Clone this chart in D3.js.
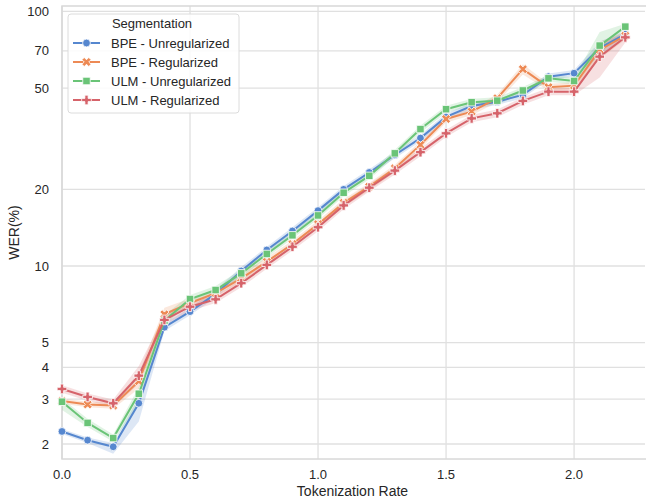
<!DOCTYPE html>
<html>
<head>
<meta charset="utf-8">
<script src="https://cdn.jsdelivr.net/npm/d3@7"></script>
<style>
  body { margin: 0; background: #fff; }
  text { font-family: "Liberation Sans", Arial, sans-serif; fill: #262626; }
</style>
</head>
<body>
<div id="chart"></div>
<script>
var rates = [0.0, 0.1, 0.2, 0.3, 0.4, 0.5, 0.6, 0.7, 0.8, 0.9, 1.0, 1.1,
             1.2, 1.3, 1.4, 1.5, 1.6, 1.7, 1.8, 1.9, 2.0, 2.1, 2.2];

var bpeUnreg = [2.24, 2.07, 1.95, 2.89, 5.75, 6.62, 7.77, 9.56, 11.56, 13.73, 16.5, 20.0,
                23.3, 27.3, 31.8, 38.5, 42.5, 44.2, 47.0, 55.4, 57.2, 71.7, 81.5];
var bpeReg   = [2.95, 2.86, 2.83, 3.53, 6.46, 7.16, 7.82, 8.95, 10.4, 12.2, 14.6, 17.7,
                20.5, 24.2, 29.9, 37.8, 40.4, 45.6, 59.3, 50.4, 51.1, 70.6, 80.3];
var ulmUnreg = [2.93, 2.42, 2.11, 3.15, 6.10, 7.42, 8.05, 9.36, 11.15, 13.2, 15.8, 19.4,
                22.6, 27.7, 34.5, 41.3, 44.0, 44.6, 48.9, 54.6, 53.3, 73.4, 87.1];
var ulmReg   = [3.29, 3.06, 2.89, 3.71, 6.14, 6.92, 7.40, 8.56, 10.1, 11.9, 14.2, 17.3,
                20.3, 23.7, 28.0, 33.2, 38.0, 39.8, 44.5, 48.4, 48.4, 66.4, 79.1];

// confidence band edges
var bpeUnregLo = [2.19, 2.02, 1.83, 2.45, 5.55, 6.40, 7.50, 9.25, 11.2, 13.3, 16.0, 19.4,
                  22.6, 26.5, 30.8, 37.3, 41.2, 42.9, 45.6, 53.8, 55.5, 67.0, 78.5];
var bpeUnregHi = [2.29, 2.12, 2.02, 3.05, 5.95, 6.85, 8.05, 9.90, 11.9, 14.2, 17.0, 20.6,
                  24.0, 28.1, 32.8, 39.7, 43.8, 45.5, 48.4, 57.0, 58.9, 76.0, 84.0];
var bpeRegLo   = [2.88, 2.79, 2.75, 3.30, 6.20, 6.90, 7.55, 8.65, 10.0, 11.8, 14.1, 17.1,
                  19.8, 23.4, 28.9, 36.6, 39.1, 44.0, 56.5, 48.8, 49.5, 65.0, 77.5];
var bpeRegHi   = [3.02, 2.93, 2.91, 3.80, 6.85, 7.45, 8.10, 9.30, 10.8, 12.6, 15.1, 18.3,
                  21.2, 25.0, 30.9, 39.0, 41.7, 47.2, 62.0, 52.0, 52.7, 76.0, 83.0];
var ulmUnregLo = [2.72, 2.33, 2.04, 2.90, 5.85, 7.15, 7.75, 9.00, 10.8, 12.8, 15.3, 18.8,
                  21.9, 26.8, 33.4, 40.0, 42.6, 43.2, 47.3, 52.9, 51.6, 68.0, 84.5];
var ulmUnregHi = [3.02, 2.51, 2.18, 3.35, 6.40, 7.70, 8.35, 9.70, 11.5, 13.7, 16.3, 20.0,
                  23.3, 28.6, 35.6, 42.6, 45.4, 46.0, 50.5, 56.3, 55.0, 83.0, 89.5];
var ulmRegLo   = [3.18, 2.96, 2.79, 3.45, 5.85, 6.65, 7.15, 8.25, 9.75, 11.5, 13.7, 16.7,
                  19.6, 22.9, 27.0, 32.1, 36.7, 38.4, 43.0, 46.8, 46.8, 55.0, 75.5];
var ulmRegHi   = [3.40, 3.16, 2.99, 4.05, 6.45, 7.20, 7.65, 8.90, 10.5, 12.3, 14.7, 17.9,
                  21.0, 24.5, 29.0, 34.3, 39.3, 41.2, 46.0, 50.0, 50.0, 75.0, 82.5];

var seriesNames = ['BPE - Unregularized', 'BPE - Regularized', 'ULM - Unregularized', 'ULM - Regularized'];
var seriesColors = ['#5687cf', '#ed8a55', '#6ac477', '#d6636a'];
var xTicks = [0.0, 0.5, 1.0, 1.5, 2.0];
var yTicks = [2, 3, 4, 5, 10, 20, 50, 70, 100];

var series = [
  {name: seriesNames[0], vals: bpeUnreg, lo: bpeUnregLo, hi: bpeUnregHi, color: seriesColors[0], shape: 'circle'},
  {name: seriesNames[1], vals: bpeReg,   lo: bpeRegLo,   hi: bpeRegHi,   color: seriesColors[1], shape: 'x'},
  {name: seriesNames[2], vals: ulmUnreg, lo: ulmUnregLo, hi: ulmUnregHi, color: seriesColors[2], shape: 'square'},
  {name: seriesNames[3], vals: ulmReg,   lo: ulmRegLo,   hi: ulmRegHi,   color: seriesColors[3], shape: 'plus'}
];

var chartWidth = 646, chartHeight = 499,
    margin = {top: 6, right: 1, bottom: 40, left: 62},
    width = chartWidth - margin.left - margin.right,
    height = chartHeight - margin.top - margin.bottom;

var svg = d3.select('#chart').append('svg')
    .attr('width', chartWidth)
    .attr('height', chartHeight);

var g = svg.append('g')
    .attr('transform', 'translate(' + margin.left + ',' + margin.top + ')');

var x = d3.scaleLinear().domain([0, 2.277]).range([0, width]);
var y = d3.scaleLog().domain([1.746, 105]).range([height, 0]);

// grid
g.selectAll('.xgrid').data(xTicks).enter().append('line')
    .attr('x1', function(d) { return x(d); })
    .attr('x2', function(d) { return x(d); })
    .attr('y1', 0).attr('y2', height)
    .attr('stroke', '#e0e0e0').attr('stroke-width', 1.3);
g.selectAll('.ygrid').data(yTicks).enter().append('line')
    .attr('x1', 0).attr('x2', width)
    .attr('y1', function(d) { return y(d); })
    .attr('y2', function(d) { return y(d); })
    .attr('stroke', '#e0e0e0').attr('stroke-width', 1.3);

// spines
g.append('rect')
    .attr('x', 0).attr('y', 0)
    .attr('width', width + 4).attr('height', height)
    .attr('fill', 'none')
    .attr('stroke', '#d8d8d8').attr('stroke-width', 1.5);

// tick labels
g.selectAll('.xlab').data(xTicks).enter().append('text')
    .attr('x', function(d) { return x(d); })
    .attr('y', height + 20)
    .attr('text-anchor', 'middle')
    .style('font-size', '13px')
    .text(function(d) { return d.toFixed(1); });
g.selectAll('.ylab').data(yTicks).enter().append('text')
    .attr('x', -13)
    .attr('y', function(d) { return y(d); })
    .attr('dy', '0.35em')
    .attr('text-anchor', 'end')
    .style('font-size', '13px')
    .text(function(d) { return d; });

// axis titles
g.append('text')
    .attr('x', width / 2 - 1)
    .attr('y', height + 37)
    .attr('text-anchor', 'middle')
    .style('font-size', '14px')
    .text('Tokenization Rate');
svg.append('text')
    .attr('transform', 'translate(19,' + (margin.top + height / 2) + ') rotate(-90)')
    .attr('text-anchor', 'middle')
    .style('font-size', '14px')
    .text('WER(%)');

// bands
var area = d3.area()
    .x(function(d, i) { return x(rates[i]); })
    .y0(function(d) { return y(d[0]); })
    .y1(function(d) { return y(d[1]); });

series.forEach(function(s) {
  g.append('path')
      .datum(s.lo.map(function(v, i) { return [v, s.hi[i]]; }))
      .attr('d', area)
      .attr('fill', s.color)
      .attr('fill-opacity', 0.2);
});

var line = d3.line()
    .x(function(d, i) { return x(rates[i]); })
    .y(function(d) { return y(d); });

function markerPath(shape) {
  if (shape === 'circle') return d3.symbol(d3.symbolCircle, 48)();
  if (shape === 'square') return d3.symbol(d3.symbolSquare, 56)();
  return d3.symbol(d3.symbolCross, 52)();
}

function drawMarker(sel, s) {
  sel.attr('d', markerPath(s.shape))
     .attr('fill', s.color)
     .attr('stroke', '#fff')
     .attr('stroke-width', 0.8);
}

series.forEach(function(s) {
  g.append('path')
      .datum(s.vals)
      .attr('d', line)
      .attr('fill', 'none')
      .attr('stroke', s.color)
      .attr('stroke-width', 2);

  g.selectAll(null)
      .data(s.vals)
      .enter().append('path')
      .attr('transform', function(d, i) {
        return 'translate(' + x(rates[i]) + ',' + y(d) + ')' + (s.shape === 'x' ? ' rotate(45)' : '');
      })
      .call(drawMarker, s);
});

// legend
var legend = svg.append('g').attr('transform', 'translate(68,14)');
legend.append('rect')
    .attr('width', 171).attr('height', 99)
    .attr('rx', 3)
    .attr('fill', '#fff').attr('fill-opacity', 0.85)
    .attr('stroke', '#dcdcdc');
legend.append('text')
    .attr('x', 84).attr('y', 9)
    .attr('dy', '0.35em')
    .attr('text-anchor', 'middle')
    .style('font-size', '13px')
    .text('Segmentation');

series.forEach(function(s, i) {
  var row = legend.append('g').attr('transform', 'translate(0,' + (29 + i * 19) + ')');
  row.append('line')
      .attr('x1', 5).attr('x2', 32)
      .attr('stroke', s.color).attr('stroke-width', 2);
  row.append('path')
      .attr('transform', 'translate(18.5,0)' + (s.shape === 'x' ? ' rotate(45)' : ''))
      .call(drawMarker, s);
  row.append('text')
      .attr('x', 43).attr('dy', '0.35em')
      .style('font-size', '13px')
      .text(s.name);
});
</script>
</body>
</html>
